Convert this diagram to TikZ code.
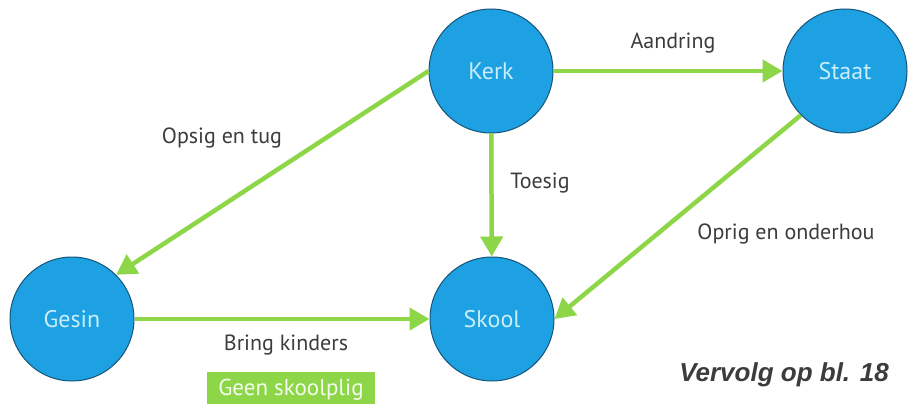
\documentclass[tikz,border=0pt]{standalone}
\usepackage{fontspec}
\setmainfont{Liberation Sans}
\newfontfamily\labelfont{PT Sans}
\usepackage{tikz}
\usetikzlibrary{arrows.meta, positioning}
\definecolor{ballblue}{RGB}{29,161,226}
\definecolor{ballrim}{RGB}{22,84,122}
\definecolor{linkgreen}{RGB}{140,214,72}
\definecolor{balltext}{RGB}{200,238,252}
\definecolor{labelgray}{RGB}{60,60,60}

\tikzset{
  ball/.style={circle, draw=ballrim, line width=1pt, fill=ballblue, minimum size=124pt, inner sep=0pt, font=\labelfont\fontsize{24}{24}\selectfont, text=balltext},
  link/.style={draw=linkgreen, line width=4.5pt, -{Triangle[length=20pt, width=22pt]}},
  lbl/.style={font=\labelfont\fontsize{22}{22}\selectfont, text=labelgray}
}

\begin{document}
\begin{tikzpicture}[x=1pt, y=-1pt]
  \useasboundingbox (0,0) rectangle (913,404);
  \node[ball] (kerk) at (491,71) {Kerk};
  \node[ball] (staat) at (845,71) {Staat};
  \node[ball] (gesin) at (72,319) {Gesin};
  \node[ball] (skool) at (492,319) {Skool};

  \draw[link] (kerk) -- (staat);
  \draw[link] (kerk.west) -- (gesin.north east);
  \draw[link] (kerk) -- (skool);
  \draw[link] (staat.south west) -- (skool.east);
  \draw[link] (gesin) -- (skool);

  \node[lbl] (aandring) at (673,43) {Aandring};
  \node[lbl] (opsig) at (222,138) {Opsig en tug};
  \node[lbl] (toesig) at (540,183) {Toesig};
  \node[lbl] (oprig) at (786,234) {Oprig en onderhou};
  \node[lbl] (bring) at (286,345) {Bring kinders};
  \node[fill=linkgreen, text=white!90!linkgreen, font=\labelfont\fontsize{23}{23}\selectfont, minimum width=168pt, minimum height=36pt, anchor=north] (plig) at (291,372) {Geen skoolplig};
  \node[font=\bfseries\itshape\fontsize{26}{26}\selectfont, text=labelgray] (vervolg) at (784,375) {Vervolg op bl. 18};
\end{tikzpicture}
\end{document}
